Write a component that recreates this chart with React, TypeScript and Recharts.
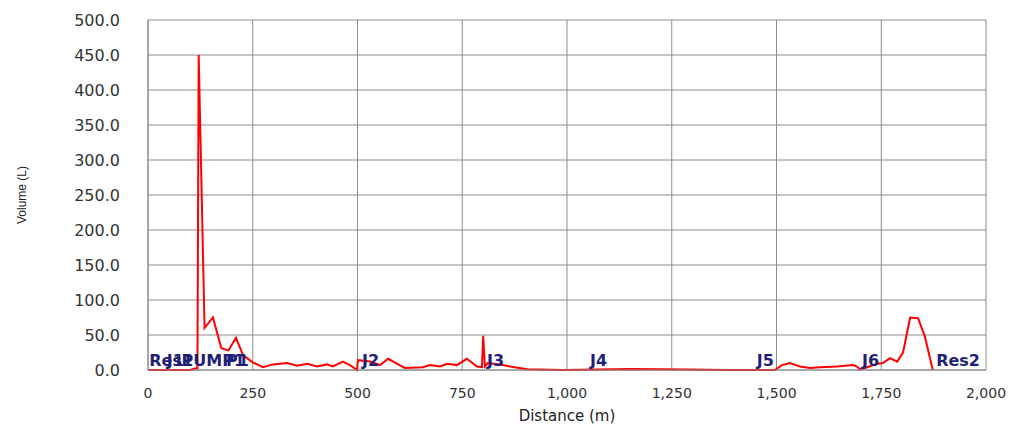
import { LineChart, Line, XAxis, YAxis, CartesianGrid, ReferenceDot } from "recharts";

// distance along the path (m) and volume (L)
const distances = [
    0, 100, 112, 118, 121, 135, 155, 175, 192, 210, 227, 250, 274, 298, 332, 356, 380, 403, 427, 441,
    465, 482, 499, 501, 530, 554, 573, 594, 613, 656, 673, 697, 714, 737, 761, 785, 797, 800, 804, 811,
    840, 864, 905, 990, 1150, 1229, 1389, 1496, 1513, 1532, 1556, 1580, 1604, 1644, 1683, 1692, 1699,
    1716, 1740, 1754, 1771, 1788, 1802, 1819, 1838, 1854, 1873,
];
const volumes = [
    0, 0, 2, 2, 450, 60, 75, 31, 28, 46, 21, 11, 4, 8, 10, 6, 9, 5, 8, 5,
    12, 7, 0, 14, 12, 7, 16, 9, 3, 4, 7, 5, 9, 7, 16, 5, 4, 49, 5, 10,
    8, 5, 1, 0, 1.5, 1, 0, 0, 7, 10, 5, 3, 4, 5, 7, 5, 1,
    4, 9, 10, 17, 12, 25, 75, 74, 48, 0,
];

// node names and where their labels start (m)
const nodeNames = ["Res1", "J1", "PUMP1", "P1", "J2", "J3", "J4", "J5", "J6", "Res2"];
const nodeDistances = [3, 45, 80, 186, 511, 809, 1055, 1453, 1704, 1881];

const xTicks = [0, 250, 500, 750, 1000, 1250, 1500, 1750, 2000];
const yTicks = [0, 50, 100, 150, 200, 250, 300, 350, 400, 450, 500];

const data = distances.map((d, i) => ({ d, v: volumes[i] }));

const gridColor = "#8c8c8c";
const tickStyle = { fill: "#333", fontFamily: "DejaVu Sans", fontSize: 14 };

const NodeLabel = (name: string) => (props: any) => (
    <text x={props.cx} y={props.cy - 4} fill="#1f1f7a" fontFamily="DejaVu Sans" fontWeight="bold" fontSize={16}>
        {name}
    </text>
);

export default function App() {
    return (
        <div style={{ position: "absolute", left: 0, top: 0, background: "#fff" }}>
            <LineChart width={1011} height={425} data={data} margin={{ top: 20, right: 25, bottom: 0, left: 0 }}>
                <CartesianGrid stroke={gridColor} horizontalValues={yTicks} verticalValues={xTicks} />
                <XAxis
                    type="number"
                    dataKey="d"
                    domain={[0, 2000]}
                    ticks={xTicks}
                    tickFormatter={(v) => v.toLocaleString("en-US")}
                    height={55}
                    stroke={gridColor}
                    tickLine={false}
                    tickSize={0}
                    tickMargin={18}
                    tick={tickStyle}
                    label={{ value: "Distance (m)", position: "insideBottom", offset: 4, fill: "#222", fontFamily: "DejaVu Sans", fontSize: 15 }}
                />
                <YAxis
                    type="number"
                    domain={[0, 500]}
                    ticks={yTicks}
                    tickFormatter={(v) => v.toFixed(1)}
                    width={148}
                    stroke={gridColor}
                    tickLine={false}
                    tickSize={0}
                    tickMargin={28}
                    tick={{ ...tickStyle, fontSize: 16 }}
                    label={{ value: "Volume (L)", angle: -90, position: "insideLeft", offset: 22, fill: "#222", fontFamily: "Liberation Sans", fontSize: 12, style: { textAnchor: "middle" } }}
                />
                <Line type="linear" dataKey="v" stroke="#ff0000" strokeWidth={2} dot={false} isAnimationActive={false} />
                {nodeNames.map((name, i) => (
                    <ReferenceDot key={name} x={nodeDistances[i]} y={0} r={0} ifOverflow="visible" shape={NodeLabel(name)} />
                ))}
            </LineChart>
        </div>
    );
}
